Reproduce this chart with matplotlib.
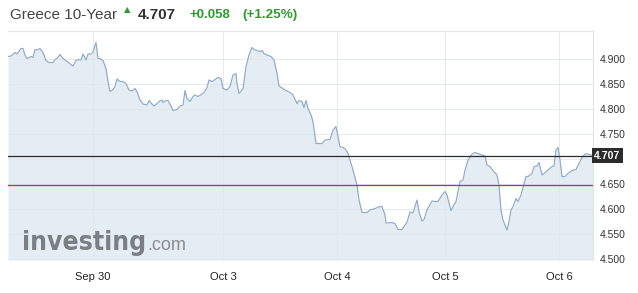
import matplotlib
matplotlib.use("Agg")
import matplotlib.pyplot as plt

# Greece 10-Year bond yield (t = horizontal position)
t = [8, 11, 15, 17, 21, 23, 25, 27, 31, 33, 35, 37, 40, 43, 46, 49, 53, 55, 57, 60,
     63, 67, 71, 73, 76, 78, 81, 83, 86, 88, 91, 93, 96, 98, 100, 103, 106, 108, 110, 113,
     115, 117, 120, 123, 126, 129, 132, 135, 137, 140, 143, 147, 149, 152, 154, 157, 159, 162, 163, 166,
     168, 171, 173, 177, 180, 183, 185, 187, 190, 193, 195, 198, 202, 204, 207, 209, 212, 215, 218, 221,
     223, 227, 230, 233, 236, 237, 239, 242, 243, 246, 249, 252, 255, 257, 260, 262, 264, 267, 271, 274,
     277, 279, 283, 286, 290, 293, 297, 299, 302, 304, 306, 308, 311, 313, 316, 322, 325, 330, 333, 336,
     340, 345, 348, 351, 353, 357, 359, 362, 367, 370, 375, 380, 382, 385, 386, 392, 395, 398, 402, 405,
     407, 410, 413, 417, 419, 422, 424, 427, 432, 435, 438, 442, 445, 447, 451, 453, 456, 458, 460, 463,
     465, 468, 472, 475, 478, 482, 485, 487, 490, 493, 497, 499, 501, 503, 507, 509, 511, 513, 516, 518,
     521, 526, 528, 532, 534, 537, 539, 542, 545, 548, 552, 554, 556, 558, 560, 562, 565, 568, 572, 576,
     579, 582, 585, 588, 591, 593]
yld = [4.905, 4.906, 4.913, 4.910, 4.921, 4.921, 4.908, 4.901, 4.905, 4.903, 4.919, 4.918, 4.921, 4.913, 4.897, 4.893, 4.893, 4.899, 4.901, 4.909,
       4.901, 4.895, 4.889, 4.886, 4.897, 4.899, 4.898, 4.910, 4.898, 4.910, 4.910, 4.914, 4.933, 4.901, 4.901, 4.897, 4.881, 4.855, 4.835, 4.839,
       4.845, 4.860, 4.855, 4.855, 4.851, 4.838, 4.836, 4.841, 4.835, 4.818, 4.810, 4.808, 4.817, 4.810, 4.806, 4.811, 4.815, 4.818, 4.813, 4.817,
       4.817, 4.806, 4.797, 4.799, 4.806, 4.808, 4.837, 4.821, 4.815, 4.825, 4.828, 4.825, 4.830, 4.833, 4.843, 4.858, 4.855, 4.859, 4.863, 4.861,
       4.841, 4.838, 4.845, 4.868, 4.871, 4.851, 4.831, 4.838, 4.841, 4.885, 4.908, 4.923, 4.918, 4.917, 4.915, 4.917, 4.911, 4.908, 4.905, 4.898,
       4.871, 4.846, 4.841, 4.837, 4.833, 4.828, 4.811, 4.817, 4.815, 4.803, 4.817, 4.801, 4.788, 4.775, 4.731, 4.731, 4.738, 4.739, 4.758, 4.765,
       4.725, 4.721, 4.711, 4.691, 4.678, 4.648, 4.618, 4.593, 4.593, 4.598, 4.601, 4.605, 4.605, 4.588, 4.572, 4.573, 4.571, 4.559, 4.559, 4.568,
       4.574, 4.594, 4.592, 4.618, 4.594, 4.576, 4.579, 4.598, 4.616, 4.615, 4.615, 4.628, 4.635, 4.628, 4.597, 4.605, 4.615, 4.635, 4.655, 4.658,
       4.678, 4.698, 4.710, 4.713, 4.711, 4.708, 4.706, 4.688, 4.685, 4.677, 4.668, 4.648, 4.598, 4.578, 4.558, 4.575, 4.598, 4.605, 4.621, 4.615,
       4.628, 4.665, 4.665, 4.671, 4.685, 4.686, 4.693, 4.668, 4.673, 4.678, 4.685, 4.686, 4.718, 4.723, 4.698, 4.665, 4.665, 4.671, 4.677, 4.679,
       4.691, 4.703, 4.710, 4.710, 4.708, 4.707]

x_ticks = [93, 223, 337, 445, 559]
x_labels = ['Sep 30', 'Oct 3', 'Oct 4', 'Oct 5', 'Oct 6']
y_ticks = [4.50, 4.55, 4.60, 4.65, 4.70, 4.75, 4.80, 4.85, 4.90]

last = 4.707
prev_close = 4.649
change = '+0.058'
change_pct = '(+1.25%)'

W, H = 638, 293
Y_MIN, Y_MAX = 4.498, 4.956

COL_LINE = '#8eabc7'
COL_FILL = '#e5edf4'
COL_GRID = '#e1e7ec'
COL_GREEN = '#2e9b2e'
COL_TEXT = '#333333'

fig = plt.figure(figsize=(W / 100, H / 100), dpi=100)
ax = fig.add_axes([8 / W, 33 / H, 585 / W, 229 / H])

ax.fill_between(t, yld, Y_MIN, color=COL_FILL, lw=0, zorder=1)
ax.plot(t, yld, color=COL_LINE, lw=0.85, zorder=3)
ax.axhline(last, color='#2b2b2b', lw=0.9, zorder=4)
ax.axhline(prev_close, color='#b03a3a', lw=0.9, zorder=4)

for yv in y_ticks:
    ax.axhline(yv, color=COL_GRID, lw=0.6, zorder=2)
for xv in x_ticks:
    ax.axvline(xv, color=COL_GRID, lw=0.6, zorder=2)

ax.set_xlim(8, 593)
ax.set_ylim(Y_MIN, Y_MAX)
ax.set_xticks(x_ticks)
ax.set_xticklabels(x_labels, fontsize=8, color='#222222', family='Liberation Sans')
ax.set_yticks(y_ticks)
# the 4.700 label is hidden behind the last-value tag
ax.set_yticklabels(['' if abs(v - 4.70) < 1e-9 else f'{v:.3f}' for v in y_ticks],
                   fontsize=7.5, color=COL_TEXT, family='Liberation Sans')
ax.yaxis.tick_right()
ax.tick_params(axis='both', length=0)
ax.tick_params(axis='x', pad=9)
ax.tick_params(axis='y', pad=5)
for side in ['left', 'bottom']:
    ax.spines[side].set_visible(False)
for side in ['top', 'right']:
    ax.spines[side].set_color('#e4e4e4')
    ax.spines[side].set_linewidth(0.8)

# current value tag on the right axis
ax.text(1.002, last, f'{last:.3f}', transform=ax.get_yaxis_transform(),
        ha='left', va='center', fontsize=7.5, fontweight='bold', color='white',
        family='Liberation Sans', zorder=6,
        bbox=dict(boxstyle='square,pad=0.25', fc='#2b2b2b', ec='none'))

# header
ty = 1 - 15 / H
fig.text(10 / W, ty, 'Greece 10-Year', fontsize=11, color='#444444',
         family='Liberation Sans', va='center')
fig.text(124 / W, 1 - 10 / H, '▲', fontsize=6, color=COL_GREEN, va='center')
fig.text(138 / W, ty, f'{last:.3f}', fontsize=11, fontweight='bold', color=COL_TEXT,
         family='Liberation Sans', va='center')
fig.text(189 / W, ty, change, fontsize=9.5, fontweight='bold', color=COL_GREEN,
         family='Liberation Sans', va='center')
fig.text(242 / W, ty, change_pct, fontsize=9.7, fontweight='bold', color=COL_GREEN,
         family='Liberation Sans', va='center')

# watermark
wm = fig.text(22 / W, 1 - 250 / H, 'investing', fontsize=19, fontweight='bold',
              fontstretch='condensed', color='#7b7e82', family='DejaVu Sans',
              va='baseline')
fig.canvas.draw()
bb = wm.get_window_extent()
fig.text(bb.x1 / W + 1 / W, 1 - 250 / H, '.com', fontsize=13, color='#8a8d91',
         family='Liberation Sans', va='baseline')

fig.savefig('out.png', dpi=100)
